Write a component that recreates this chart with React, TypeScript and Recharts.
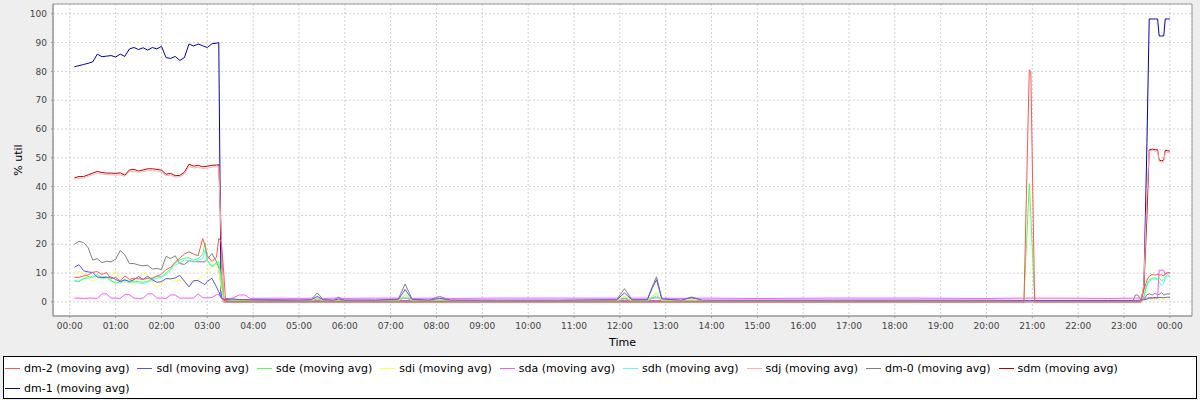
import React from 'react';
import { LineChart, Line, XAxis, YAxis, CartesianGrid, ReferenceArea } from 'recharts';

const FONT = '"DejaVu Sans", "Noto Sans", sans-serif';

// sample times, minutes since 00:00
const times = [
  6, 12, 18, 24, 30, 36, 42, 48, 54, 60, 66, 72, 78, 84, 90, 96, 102, 108, 114, 120,
  126, 132, 138, 144, 150, 156, 162, 168, 174, 177, 180, 186, 192,
  195, 198, 201, 204,
  212, 222, 229, 236, 270, 300, 316, 324, 332, 345, 352, 359, 400, 430, 439, 448, 470, 484, 498, 560, 640,
  716, 726, 736, 756, 762, 768, 775, 800, 814, 828, 900, 1000, 1100, 1200, 1249, 1256, 1258, 1263, 1300, 1360, 1392,
  1395, 1398, 1402, 1406, 1410, 1413, 1417, 1421, 1424, 1426, 1429, 1432, 1434, 1437, 1440,
];

const dm2 = [
  8.5, 8.5, 9.0, 9.3, 10.3, 10.5, 9.5, 10.2, 8.0, 8.5, 7.2, 9.0, 7.8, 8.2, 8.0, 7.8, 8.2, 8.2, 9.0, 9.6,
  11.2, 12.0, 13.8, 15.2, 16.6, 17.4, 16.6, 16.0, 22.0, 19.5, 16.0, 14.0, 15.5,
  22.0, 21.0, 12.0, 0,
  0, 0, 0, 0, 0, 0, 0, 0, 0, 0, 0, 0, 0, 0, 0, 0, 0, 0, 0, 0, 0,
  0, 0, 0, 0, 0, 0, 0, 0, 0, 0, 0, 0, 0, 0, 0, 80.5, 80.0, 0, 0, 0, 0,
  0, 0, 0, 4.0, 7.5, 8.9, 9.5, 9.3, 9.6, 9.3, 9.4, 9.0, 9.8, 10.2, 10.0,
];

const sdl = [
  12.0, 12.9, 10.8, 10.4, 10.2, 8.6, 8.5, 8.5, 8.6, 7.8, 7.0, 7.6, 7.1, 7.7, 8.8, 7.8, 8.9, 7.7, 6.8, 7.0,
  8.1, 8.0, 8.3, 9.2, 7.2, 5.2, 7.4, 7.4, 6.4, 6.0, 7.1, 8.2, 5.2,
  3.5, 1.5, 1.0, 0.8,
  1.0, 0.8, 0.8, 0.7, 0.6, 0.6, 0.7, 1.9, 0.7, 0.6, 1.0, 0.6, 0.6, 0.8, 4.3, 0.8, 0.6, 1.2, 0.6, 0.6, 0.6,
  0.7, 3.1, 0.7, 0.7, 4.5, 7.7, 1.0, 0.6, 1.5, 0.6, 0.6, 0.6, 0.6, 0.6, 0.5, 0.5, 0.5, 0.5, 0.5, 0.5, 0.5,
  0.5, 0.5, 0.6, 0.7, 1.0, 1.4, 1.4, 1.5, 1.4, 1.5, 1.5, 1.4, 1.5, 1.6, 1.6,
];

const sde = [
  7.5, 7.0, 8.0, 8.8, 8.5, 9.5, 8.5, 8.8, 7.5, 6.5, 7.0, 7.8, 6.8, 7.2, 7.0, 6.8, 7.2, 8.0, 8.8, 8.8,
  10.0, 11.5, 13.5, 14.6, 15.2, 15.3, 14.5, 15.0, 16.5, 20.5, 14.5, 12.5, 13.5,
  14.0, 8.0, 2.0, 0.8,
  0.6, 0.5, 0.5, 0.4, 0.4, 0.4, 0.4, 1.0, 0.4, 0.4, 0.5, 0.4, 0.4, 0.4, 1.5, 0.4, 0.4, 0.6, 0.4, 0.4, 0.4,
  0.4, 1.0, 0.4, 0.4, 1.2, 2.0, 0.4, 0.4, 0.6, 0.4, 0.4, 0.4, 0.4, 0.4, 0.4, 41.0, 30.0, 0.4, 0.4, 0.4, 0.4,
  0.4, 0.4, 0.4, 2.0, 6.0, 7.7, 8.2, 8.4, 8.0, 8.5, 7.2, 8.0, 8.5, 9.5, 9.0,
];

const sdi = [
  9.4, 10.5, 10.0, 8.0, 7.2, 8.0, 9.0, 8.0, 8.5, 10.9, 8.0, 6.6, 7.7, 6.0, 8.0, 10.0, 9.5, 6.5, 5.2, 6.0,
  7.8, 8.0, 7.0, 7.6, 6.6, 6.0, 7.0, 7.6, 9.0, 9.6, 10.6, 12.6, 12.8,
  11.0, 5.0, 1.5, 0.6,
  0.8, 0.6, 0.6, 0.5, 0.5, 0.5, 0.5, 1.2, 0.5, 0.5, 0.7, 0.5, 0.5, 0.5, 3.0, 0.5, 0.5, 0.8, 0.5, 0.5, 0.5,
  0.5, 2.0, 0.5, 0.5, 2.0, 3.5, 0.5, 0.5, 0.8, 0.5, 0.5, 0.5, 0.5, 0.5, 0.5, 0.5, 0.5, 0.5, 0.5, 0.5, 0.5,
  0.5, 0.5, 0.5, 0.6, 0.7, 0.8, 0.8, 0.9, 0.8, 0.8, 0.9, 0.8, 0.8, 0.9, 0.9,
];

const sda = [
  1.3, 1.3, 1.2, 1.3, 1.3, 1.2, 2.8, 2.8, 1.3, 1.3, 1.2, 2.5, 2.5, 1.3, 1.2, 1.3, 2.8, 2.8, 1.3, 1.3,
  1.2, 2.4, 2.4, 1.3, 1.3, 1.3, 1.3, 2.8, 1.4, 1.4, 1.4, 1.5, 2.5,
  2.5, 1.5, 1.0, 0.9,
  1.2, 2.4, 2.4, 1.2, 1.3, 1.2, 1.3, 1.3, 1.2, 1.3, 1.3, 1.2, 1.3, 1.3, 1.3, 1.2, 1.3, 1.3, 1.2, 1.3, 1.3,
  1.3, 1.2, 1.3, 1.3, 1.3, 1.4, 1.3, 1.2, 1.3, 1.3, 1.2, 1.3, 1.3, 1.2, 1.3, 1.3, 1.3, 1.3, 1.3, 1.2, 1.3,
  1.3, 1.3, 1.3, 1.3, 1.3, 1.3, 1.3, 1.3, 1.3, 11.0, 11.0, 11.0, 9.5, 10.0, 10.2,
];

const sdh = [
  7.0, 7.3, 8.2, 8.0, 9.0, 8.8, 8.0, 8.3, 7.2, 6.8, 6.5, 7.2, 6.5, 6.8, 6.6, 6.3, 6.8, 7.5, 8.2, 8.5,
  9.5, 11.0, 12.8, 13.5, 14.6, 14.2, 13.8, 14.5, 15.0, 18.0, 14.0, 12.0, 13.0,
  13.5, 7.0, 2.0, 0.8,
  0.6, 0.5, 0.5, 0.4, 0.4, 0.4, 0.4, 1.0, 0.4, 0.4, 0.5, 0.4, 0.4, 0.4, 2.5, 0.4, 0.4, 0.6, 0.4, 0.4, 0.4,
  0.4, 1.8, 0.4, 0.4, 1.5, 3.0, 0.4, 0.4, 0.6, 0.4, 0.4, 0.4, 0.4, 0.4, 0.4, 0.4, 0.4, 0.4, 0.4, 0.4, 0.4,
  0.4, 0.4, 0.4, 1.5, 5.5, 7.3, 7.8, 8.0, 7.5, 7.0, 5.5, 6.5, 8.0, 9.0, 8.8,
];

const sdj = [
  42.6, 42.9, 43.0, 43.6, 44.1, 44.6, 44.4, 44.2, 44.1, 44.0, 44.1, 43.6, 45.2, 45.3, 45.0, 45.2, 45.5, 45.6, 45.4, 45.1,
  43.8, 44.0, 43.3, 43.4, 44.4, 47.0, 46.5, 46.7, 46.3, 46.4, 46.4, 46.8, 46.9,
  47.0, 24.0, 0, 0,
  0, 0, 0, 0, 0, 0, 0, 0, 0, 0, 0, 0, 0, 0, 0, 0, 0, 0, 0, 0, 0,
  0, 0, 0, 0, 0, 0, 0, 0, 0, 0, 0, 0, 0, 0, 0, 0, 0, 0, 0, 0, 0,
  0, 0, 0, 6.0, 38.0, 52.3, 52.5, 52.3, 52.3, 48.8, 48.6, 48.8, 52.0, 52.0, 51.8,
];

const dm0 = [
  20.0, 21.0, 20.6, 18.8, 14.5, 15.0, 13.6, 14.1, 13.9, 14.8, 17.8, 16.4, 13.3, 13.3, 12.8, 12.5, 12.7, 11.4, 11.6, 11.2,
  15.8, 15.0, 16.0, 13.3, 13.0, 14.3, 14.0, 13.9, 13.9, 13.9, 14.8, 16.8, 14.0,
  11.6, 5.5, 2.0, 1.2,
  1.0, 0.8, 0.8, 0.7, 0.8, 0.6, 0.8, 3.1, 0.8, 0.6, 1.7, 0.6, 0.6, 1.0, 6.2, 1.0, 0.6, 1.9, 0.6, 0.5, 0.5,
  0.8, 4.6, 0.8, 0.8, 5.0, 8.7, 1.2, 0.5, 1.7, 0.5, 0.5, 0.5, 0.5, 0.5, 0.4, 0.4, 0.4, 0.4, 0.4, 0.4, 0.5,
  2.4, 2.4, 0.8, 0.9, 2.5, 2.8, 2.4, 3.0, 2.5, 2.6, 3.2, 2.4, 2.6, 2.8, 2.7,
];

const sdm = [
  43.1, 43.5, 43.5, 44.1, 44.7, 45.3, 44.9, 44.7, 44.7, 44.6, 44.8, 44.0, 45.8, 46.0, 45.4, 45.8, 46.2, 46.2, 46.0, 45.7,
  44.3, 44.6, 43.8, 43.9, 45.0, 47.8, 47.1, 47.4, 46.9, 47.0, 47.1, 47.4, 47.5,
  47.6, 25.0, 0, 0,
  0, 0, 0, 0, 0, 0, 0, 0, 0, 0, 0, 0, 0, 0, 0, 0, 0, 0, 0, 0, 0,
  0, 0, 0, 0, 0, 0, 0, 0, 0, 0, 0, 0, 0, 0, 0, 0, 0, 0, 0, 0, 0,
  0, 0, 0, 5.0, 30.0, 52.8, 53.0, 52.8, 52.8, 49.2, 49.0, 49.2, 52.6, 52.5, 52.3,
];

const dm1 = [
  81.6, 82.0, 82.4, 82.8, 83.3, 86.0, 85.1, 85.3, 85.5, 85.0, 86.0, 85.2, 87.8, 88.3, 87.6, 88.2, 87.4, 88.3, 87.8, 88.7,
  84.8, 84.5, 85.2, 83.8, 84.8, 89.5, 88.8, 89.5, 88.9, 88.6, 88.3, 89.6, 89.8,
  90.0, 1.5, 0.8, 0.5,
  0.3, 0.3, 0.3, 0.3, 0.3, 0.3, 0.3, 0.3, 0.3, 0.3, 0.3, 0.3, 0.3, 0.3, 0.3, 0.3, 0.3, 0.3, 0.3, 0.3, 0.3,
  0.3, 0.3, 0.3, 0.3, 0.3, 0.3, 0.3, 0.3, 0.3, 0.3, 0.3, 0.3, 0.3, 0.3, 0.3, 0.3, 0.3, 0.3, 0.3, 0.3, 0.3,
  0.3, 0.3, 0.3, 5.0, 55.0, 98.2, 98.2, 98.2, 98.2, 92.3, 92.3, 92.3, 98.2, 98.2, 98.2,
];

const hourTicks = [0, 60, 120, 180, 240, 300, 360, 420, 480, 540, 600, 660, 720, 780, 840, 900, 960, 1020, 1080, 1140, 1200, 1260, 1320, 1380, 1440];
const utilTicks = [0, 10, 20, 30, 40, 50, 60, 70, 80, 90, 100];

const series = [
  { key: 'dm2', name: 'dm-2 (moving avg)', color: '#ff5555', values: dm2 },
  { key: 'sdl', name: 'sdl (moving avg)', color: '#5555ff', values: sdl },
  { key: 'sde', name: 'sde (moving avg)', color: '#55ff55', values: sde },
  { key: 'sdi', name: 'sdi (moving avg)', color: '#ffff55', values: sdi },
  { key: 'sda', name: 'sda (moving avg)', color: '#ff55ff', values: sda },
  { key: 'sdh', name: 'sdh (moving avg)', color: '#55ffff', values: sdh },
  { key: 'sdj', name: 'sdj (moving avg)', color: '#ffafaf', values: sdj },
  { key: 'dm0', name: 'dm-0 (moving avg)', color: '#808080', values: dm0 },
  { key: 'sdm', name: 'sdm (moving avg)', color: '#c00000', values: sdm },
  { key: 'dm1', name: 'dm-1 (moving avg)', color: '#0000c0', values: dm1 },
];

const rows = times.map((t, i) => {
  const row: Record<string, number> = { t };
  series.forEach((s) => { row[s.key] = s.values[i]; });
  return row;
});

const fmtHour = (m: number) => `${String(Math.floor(m / 60) % 24).padStart(2, '0')}:00`;

const YLabel = (props: any) => {
  const vb = props.viewBox || { x: 0, y: 4, width: 53, height: 312 };
  const cx = 18;
  const cy = vb.y + vb.height / 2;
  return (
    <text x={cx} y={cy} transform={`rotate(-90 ${cx} ${cy})`} textAnchor="middle" dominantBaseline="central"
      fontSize={11} fontFamily={FONT} fill="#000">% util</text>
  );
};

const XLabel = (props: any) => {
  const vb = props.viewBox || { x: 53, y: 316, width: 1139, height: 36 };
  return (
    <text x={vb.x + vb.width / 2} y={vb.y + 30} textAnchor="middle" fontSize={11} fontFamily={FONT} fill="#000">Time</text>
  );
};

const tickStyle = { fontSize: 9, fontFamily: FONT, fill: '#444' };

export default function App() {
  return (
    <div style={{ position: 'absolute', left: 0, top: 0, width: 1200, height: 400, background: '#eeeeee' }}>
      <LineChart width={1200} height={352} data={rows} margin={{ top: 4, right: 8, left: 0, bottom: 0 }}>
        <CartesianGrid stroke="#d2d2d2" strokeDasharray="2 2" fill="#ffffff" />
        <XAxis
          dataKey="t"
          type="number"
          domain={[-22, 1469]}
          allowDataOverflow
          ticks={hourTicks}
          interval={0}
          tickFormatter={fmtHour}
          height={36}
          tickSize={2}
          tickMargin={5}
          tick={tickStyle}
          axisLine={{ stroke: '#999' }}
          tickLine={{ stroke: '#999' }}
          label={<XLabel />}
        />
        <YAxis
          type="number"
          domain={[-4.9, 103.4]}
          allowDataOverflow
          ticks={utilTicks}
          interval={0}
          width={53}
          tickSize={2}
          tickMargin={4}
          tick={tickStyle}
          axisLine={{ stroke: '#999' }}
          tickLine={{ stroke: '#999' }}
          label={<YLabel />}
        />
        {[...series].reverse().map((s) => (
          <Line
            key={s.key}
            type="linear"
            dataKey={s.key}
            name={s.name}
            stroke={s.color}
            strokeWidth={1}
            dot={false}
            activeDot={false}
            isAnimationActive={false}
          />
        ))}
        <ReferenceArea x1={-22} x2={1469} y1={-4.9} y2={103.4} fill="none" stroke="#999" ifOverflow="visible" />
      </LineChart>
      <div
        style={{
          position: 'absolute', left: 3, top: 356, width: 1192, height: 40, border: '1px solid #000',
          background: '#fff', display: 'flex', flexWrap: 'wrap', alignContent: 'flex-start',
          fontFamily: FONT, fontSize: 11, color: '#000', paddingTop: 1, boxSizing: 'content-box',
        }}
      >
        {series.map((s) => (
          <div key={s.key} style={{ display: 'flex', alignItems: 'center', height: 20, marginRight: 7 }}>
            <span style={{ display: 'inline-block', width: 15, height: 1, background: s.color, marginLeft: 1, marginRight: 4 }} />
            <span style={{ whiteSpace: 'nowrap' }}>{s.name}</span>
          </div>
        ))}
      </div>
    </div>
  );
}
